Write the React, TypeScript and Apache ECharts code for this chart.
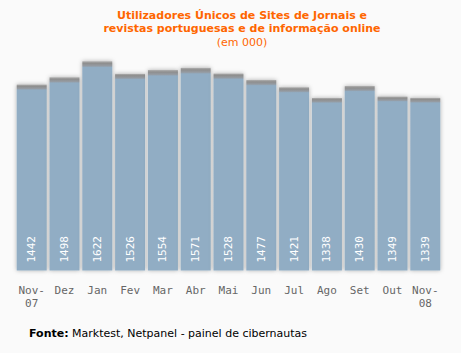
import React, { useEffect, useRef } from "react";
import * as echarts from "echarts";

const months = ["Nov-\n07", "Dez", "Jan", "Fev", "Mar", "Abr", "Mai", "Jun", "Jul", "Ago", "Set", "Out", "Nov-\n08"];
const users = [1442, 1498, 1622, 1526, 1554, 1571, 1528, 1477, 1421, 1338, 1430, 1349, 1339];
const titleLines = ["Utilizadores Únicos de Sites de Jornais e", "revistas portuguesas e de informação online"];
const subtitle = "(em 000)";

export default function App() {
  const ref = useRef<HTMLDivElement>(null);
  useEffect(() => {
    if (!ref.current) return;
    const chart = echarts.init(ref.current, null, { renderer: "svg" });
    chart.setOption({
      animation: false,
      backgroundColor: "#fafafa",
      title: [
        {
          text: titleLines.join("\n") + "\n{s|" + subtitle + "}",
          left: 242,
          top: 9,
          padding: 0,
          textAlign: "center",
          textStyle: {
            fontFamily: "DejaVu Sans",
            fontSize: 11,
            fontWeight: "bold",
            color: "#ff6600",
            lineHeight: 13,
            rich: {
              s: { fontFamily: "DejaVu Sans", fontSize: 11, fontWeight: "normal", color: "#ff6600", lineHeight: 14 },
            },
          },
        },
        {
          text: "{b|Fonte:} Marktest, Netpanel - painel de cibernautas",
          left: 29,
          top: 328,
          padding: 0,
          textStyle: {
            fontFamily: "DejaVu Sans",
            fontSize: 11,
            fontWeight: "normal",
            color: "#000",
            rich: {
              b: { fontFamily: "DejaVu Sans", fontSize: 11, fontWeight: "bold", color: "#000" },
            },
          },
        },
      ],
      grid: { left: 15.3, right: 19.3, top: 12.5, bottom: 82.5 },
      xAxis: {
        type: "category",
        data: months,
        axisLine: { show: false },
        axisTick: { show: false },
        axisLabel: {
          interval: 0,
          margin: 13,
          color: "#666",
          fontFamily: "DejaVu Sans Mono",
          fontSize: 11,
          lineHeight: 13,
          align: "center",
        },
      },
      yAxis: { type: "value", min: 0, max: 2000, show: false, splitLine: { show: false } },
      series: [
        {
          type: "bar",
          data: users,
          barCategoryGap: "8.5%",
          itemStyle: {
            color: {
              type: "linear",
              x: 0, y: 0, x2: 0, y2: 1,
              colorStops: [
                { offset: 0, color: "#b0b0b0" },
                { offset: 0.01, color: "#8e8e8e" },
                { offset: 0.022, color: "#959ba2" },
                { offset: 0.03, color: "#91adc4" },
                { offset: 1, color: "#91adc4" },
              ],
            },
            shadowColor: "rgba(0,0,0,0.3)",
            shadowBlur: 4,
          },
          label: {
            show: true,
            position: "insideBottom",
            rotate: 90,
            distance: 8,
            align: "left",
            verticalAlign: "middle",
            color: "#fff",
            fontFamily: "DejaVu Sans Mono",
            fontSize: 11,
          },
        },
      ],
    });
    return () => chart.dispose();
  }, []);
  return <div ref={ref} style={{ position: "absolute", left: 0, top: 0, width: 461, height: 353 }} />;
}
